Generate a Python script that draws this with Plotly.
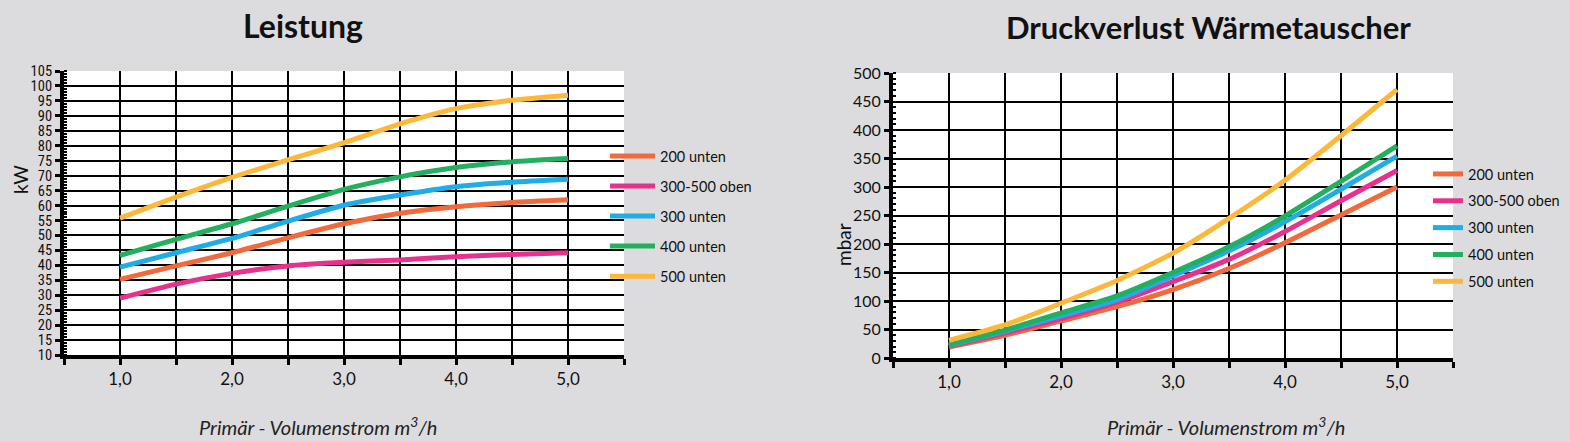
import plotly.graph_objects as go

# ---------------- data ----------------
flow = [1.0, 1.5, 2.0, 2.5, 3.0, 3.5, 4.0, 4.5, 5.0]
series_names = ["200 unten", "300-500 oben", "300 unten", "400 unten", "500 unten"]
series_colors = ["#F26A3B", "#E8308E", "#1EADE6", "#22AF5F", "#FDB839"]

# Leistung (kW)
kw_200u = [35.3, 39.8, 44.2, 49.2, 53.9, 57.4, 59.6, 61.0, 61.9]
kw_300_500o = [29.0, 33.7, 37.3, 39.8, 41.0, 41.8, 42.9, 43.6, 44.2]
kw_300u = [39.4, 44.2, 49.0, 54.8, 60.1, 63.5, 66.3, 67.8, 68.8]
kw_400u = [43.3, 48.7, 53.9, 59.8, 65.4, 69.6, 72.7, 74.6, 75.7]
kw_500u = [55.8, 62.8, 69.4, 75.3, 81.0, 87.3, 92.4, 95.2, 96.9]

# Druckverlust (mbar)
mbar_200u = [19.4, 40, 65, 90, 120, 157, 202, 251, 300]
mbar_300_500o = [20.6, 44, 69, 98, 134, 173, 222, 276, 329]
mbar_300u = [22, 47, 74, 102, 144, 188, 239, 296, 354]
mbar_400u = [23.5, 49, 79, 109, 150, 195, 249, 310, 372]
mbar_500u = [31, 58, 96, 136, 184, 245, 312, 390, 471]

x_tickvals = [0.5, 1.0, 1.5, 2.0, 2.5, 3.0, 3.5, 4.0, 4.5, 5.0, 5.5]
x_ticktext = ["", "1,0", "", "2,0", "", "3,0", "", "4,0", "", "5,0", ""]
kw_ticks = list(range(10, 106, 5))
mbar_ticks = list(range(0, 501, 50))

kw_sets = [kw_200u, kw_300_500o, kw_300u, kw_400u, kw_500u]
mbar_sets = [mbar_200u, mbar_300_500o, mbar_300u, mbar_400u, mbar_500u]

FONT = "Lato, 'Open Sans', sans-serif"
BG = "#DCDCDE"
W, H = 1570, 442

fig = go.Figure()

for name, col, ys in zip(series_names, series_colors, kw_sets):
    fig.add_trace(go.Scatter(
        x=flow, y=ys, name=name, mode="lines",
        line=dict(color=col, width=5, shape="spline", smoothing=0.6),
        xaxis="x", yaxis="y", legend="legend", legendgroup="L" + name,
    ))
for name, col, ys in zip(series_names, series_colors, mbar_sets):
    fig.add_trace(go.Scatter(
        x=flow, y=ys, name=name, mode="lines",
        line=dict(color=col, width=5, shape="spline", smoothing=0.6),
        xaxis="x2", yaxis="y2", legend="legend2", legendgroup="R" + name,
    ))

def xax(domain, anchor):
    return dict(
        domain=domain, anchor=anchor, range=[0.5, 5.5],
        tickmode="array", tickvals=x_tickvals, ticktext=x_ticktext,
        ticks="outside", ticklen=6, tickwidth=3, tickcolor="black",
        showgrid=True, gridcolor="black", gridwidth=1.5,
        showline=True, linecolor="black", linewidth=4,
        zeroline=False, automargin=False, fixedrange=True,
        tickfont=dict(family=FONT, size=17, color="#111"),
        ticklabelstandoff=0,
    )

def yax(domain, anchor, rng, ticks, minor_dtick, fsize, ffam):
    return dict(
        domain=domain, anchor=anchor, range=rng,
        tickmode="array", tickvals=ticks, ticktext=[str(t) for t in ticks],
        ticks="outside", ticklen=5, tickwidth=2.5, tickcolor="black",
        minor=dict(dtick=minor_dtick, ticks="inside", ticklen=3, tickwidth=2,
                   tickcolor="black", showgrid=False),
        showgrid=True, gridcolor="black", gridwidth=1.5,
        showline=True, linecolor="black", linewidth=4,
        zeroline=False, automargin=False, fixedrange=True,
        tickfont=dict(family=ffam, size=fsize, color="#111"),
    )

def ann(text, x, y, size, angle=0, color="#111"):
    return dict(text=text, x=x / W, y=1 - y / H, xref="paper", yref="paper",
                xanchor="center", yanchor="middle", showarrow=False,
                textangle=angle, font=dict(family=FONT, size=size, color=color))

fig.update_layout(
    width=W, height=H,
    margin=dict(l=0, r=0, t=0, b=0),
    paper_bgcolor=BG, plot_bgcolor="white",
    font=dict(family=FONT, color="#111"),
    xaxis=xax([64 / W, 624 / W], "y"),
    yaxis=yax([1 - 355 / H, 1 - 71 / H], "x", [10, 105], kw_ticks, 1, 14.5,
              "'Liberation Sans Narrow', 'Roboto Condensed', Lato, sans-serif"),
    xaxis2=xax([893 / W, 1453 / W], "y2"),
    yaxis2=yax([1 - 358 / H, 1 - 73 / H], "x2", [0, 500], mbar_ticks, 10, 16, FONT),
    legend=dict(x=605 / W, y=1 - 140 / H, xanchor="left", yanchor="top",
                bgcolor="rgba(0,0,0,0)", font=dict(family=FONT, size=14.5, color="#111"),
                traceorder="grouped", tracegroupgap=8.2, itemclick=False,
                itemwidth=45),
    legend2=dict(x=1428 / W, y=1 - 158 / H, xanchor="left", yanchor="top",
                 bgcolor="rgba(0,0,0,0)", font=dict(family=FONT, size=14.5, color="#111"),
                 traceorder="grouped", tracegroupgap=5.0, itemclick=False),
    showlegend=True,
    annotations=[
        ann("<b>Leistung</b>", 303, 25, 32),
        ann("<b>Druckverlust Wärmetauscher</b>", 1208, 27, 31),
        ann("<i>Primär - Volumenstrom m<sup>3</sup>/h</i>", 318, 426, 20, color="#222"),
        ann("<i>Primär - Volumenstrom m<sup>3</sup>/h</i>", 1226, 426, 20, color="#222"),
        ann("kW", 20, 180, 19, angle=-90),
        ann("mbar", 843, 245, 19, angle=-90),
    ],
)

fig.write_html(
    "out.html",
    config={"displayModeBar": False},
    post_script="document.body.style.margin='0';document.body.style.padding='0';"
                "document.documentElement.style.overflow='hidden';",
)
